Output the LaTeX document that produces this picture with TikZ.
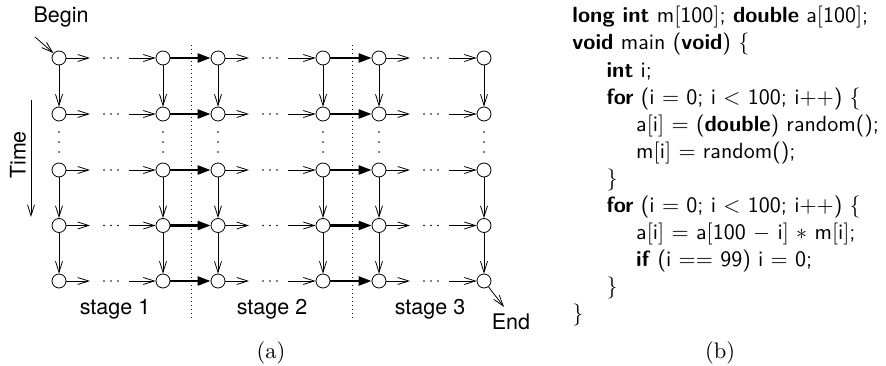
\documentclass[tikz,border=0pt]{standalone}
\usepackage{fontspec}
\newfontfamily\labfont{TeX Gyre Heros}
\usetikzlibrary{arrows.meta}

\tikzset{
  vtx/.style={circle, draw, line width=0.8pt, fill=white, minimum size=14pt, inner sep=0pt},
  thinarr/.style={line width=0.8pt, -{Straight Barb[length=11pt,width=7pt]}},
  heavy/.style={line width=2.4pt, -{Triangle[length=13pt,width=9pt]}},
  sep/.style={line width=0.9pt, dash pattern=on 1pt off 3pt},
  lab/.style={font=\labfont\fontsize{21.5}{25}\selectfont, inner sep=0pt},
  subcap/.style={font=\rmfamily, scale=2.25, inner sep=0pt},
  codebox/.style={font=\sffamily\fontsize{10}{12.3}\selectfont, scale=2.2, inner sep=0pt, align=left, anchor=north west},
  dot/.style={fill=black, draw=none}
}

\begin{document}
\begin{tikzpicture}[x=1pt, y=-1pt]
\useasboundingbox (0,0) rectangle (886,366);

% grid of states: rows are time steps, columns are processors
\foreach \r/\y in {1/58, 2/114, 3/170, 4/225.5, 5/281}
  \foreach \c/\x in {1/59, 2/163, 3/218, 4/323, 5/379, 6/484}
    \node[vtx] (v-\r-\c) at (\x,\y) {};

% stage separators
\coordinate (s1t) at (191,45);  \coordinate (s1b) at (191,320);
\coordinate (s2t) at (352,45);  \coordinate (s2b) at (352,320);
\draw[sep] (s1t) -- (s1b);
\draw[sep] (s2t) -- (s2b);

% horizontal links inside each stage, with elided middle part
\foreach \r/\y in {1/58, 2/114, 3/170, 4/225.5, 5/281} {
  \foreach \a/\b/\xa in {1/2/59, 3/4/218, 5/6/379} {
    \coordinate (h-\r-\a-o) at (\xa+31,\y);
    \coordinate (h-\r-\a-i) at (\xa+70,\y);
    \draw[thinarr] (v-\r-\a) -- (h-\r-\a-o);
    \draw[thinarr] (h-\r-\a-i) -- (v-\r-\b);
    \foreach \d in {45,52,59}
      \fill[dot] (\xa+\d,\y) circle (0.9pt);
  }
  % heavy links crossing stage boundaries
  \draw[heavy] (v-\r-2) -- (v-\r-3);
  \draw[heavy] (v-\r-4) -- (v-\r-5);
}

% vertical links in time, with elided rows between 2 and 3
\foreach \c/\x in {1/59, 2/163, 3/218, 4/323, 5/379, 6/484} {
  \draw[thinarr] (v-1-\c) -- (v-2-\c);
  \draw[thinarr] (v-3-\c) -- (v-4-\c);
  \draw[thinarr] (v-4-\c) -- (v-5-\c);
  \foreach \d in {132,142,152}
    \fill[dot] (\x,\d) circle (0.9pt);
}

% begin / end markers
\node[lab] (begin) at (61,17) {Begin};
\coordinate (bstart) at (35,37);
\draw[thinarr] (bstart) -- (v-1-1);
\coordinate (eend) at (504,307);
\draw[thinarr] (v-5-6) -- (eend);
\node[lab] (end) at (511,322) {End};

% time axis
\node[lab, rotate=90] (time) at (18,155) {Time};
\coordinate (t1) at (31,100);
\coordinate (t2) at (31,217);
\draw[thinarr] (t1) -- (t2);

% stage labels
\node[lab] (st1) at (115,309) {stage 1};
\node[lab] (st2) at (272,309) {stage 2};
\node[lab] (st3) at (430,309) {stage 3};

% sub-figure captions
\node[subcap] (capa) at (271,353) {(a)};
\node[subcap] (capb) at (720,353) {(b)};

% program listing
\node[codebox] (code) at (572,6) {%
\textbf{long int} m$[$100$]$; \textbf{double} a$[$100$]$;\\
\textbf{void} main (\textbf{void}) \{\\
\hspace*{15.5pt}\textbf{int} i;\\
\hspace*{15.5pt}\textbf{for} (i $=$ 0; i $<$ 100; i$++$) \{\\
\hspace*{29pt}a$[$i$]$ $=$ (\textbf{double}) random();\\
\hspace*{29pt}m$[$i$]$ $=$ random();\\
\hspace*{15.5pt}\}\\
\hspace*{15.5pt}\textbf{for} (i $=$ 0; i $<$ 100; i$++$) \{\\
\hspace*{29pt}a$[$i$]$ $=$ a$[$100 $-$ i$]$ $*$ m$[$i$]$;\\
\hspace*{29pt}\textbf{if} (i $==$ 99) i $=$ 0;\\
\hspace*{15.5pt}\}\\
\}};
\end{tikzpicture}
\end{document}
